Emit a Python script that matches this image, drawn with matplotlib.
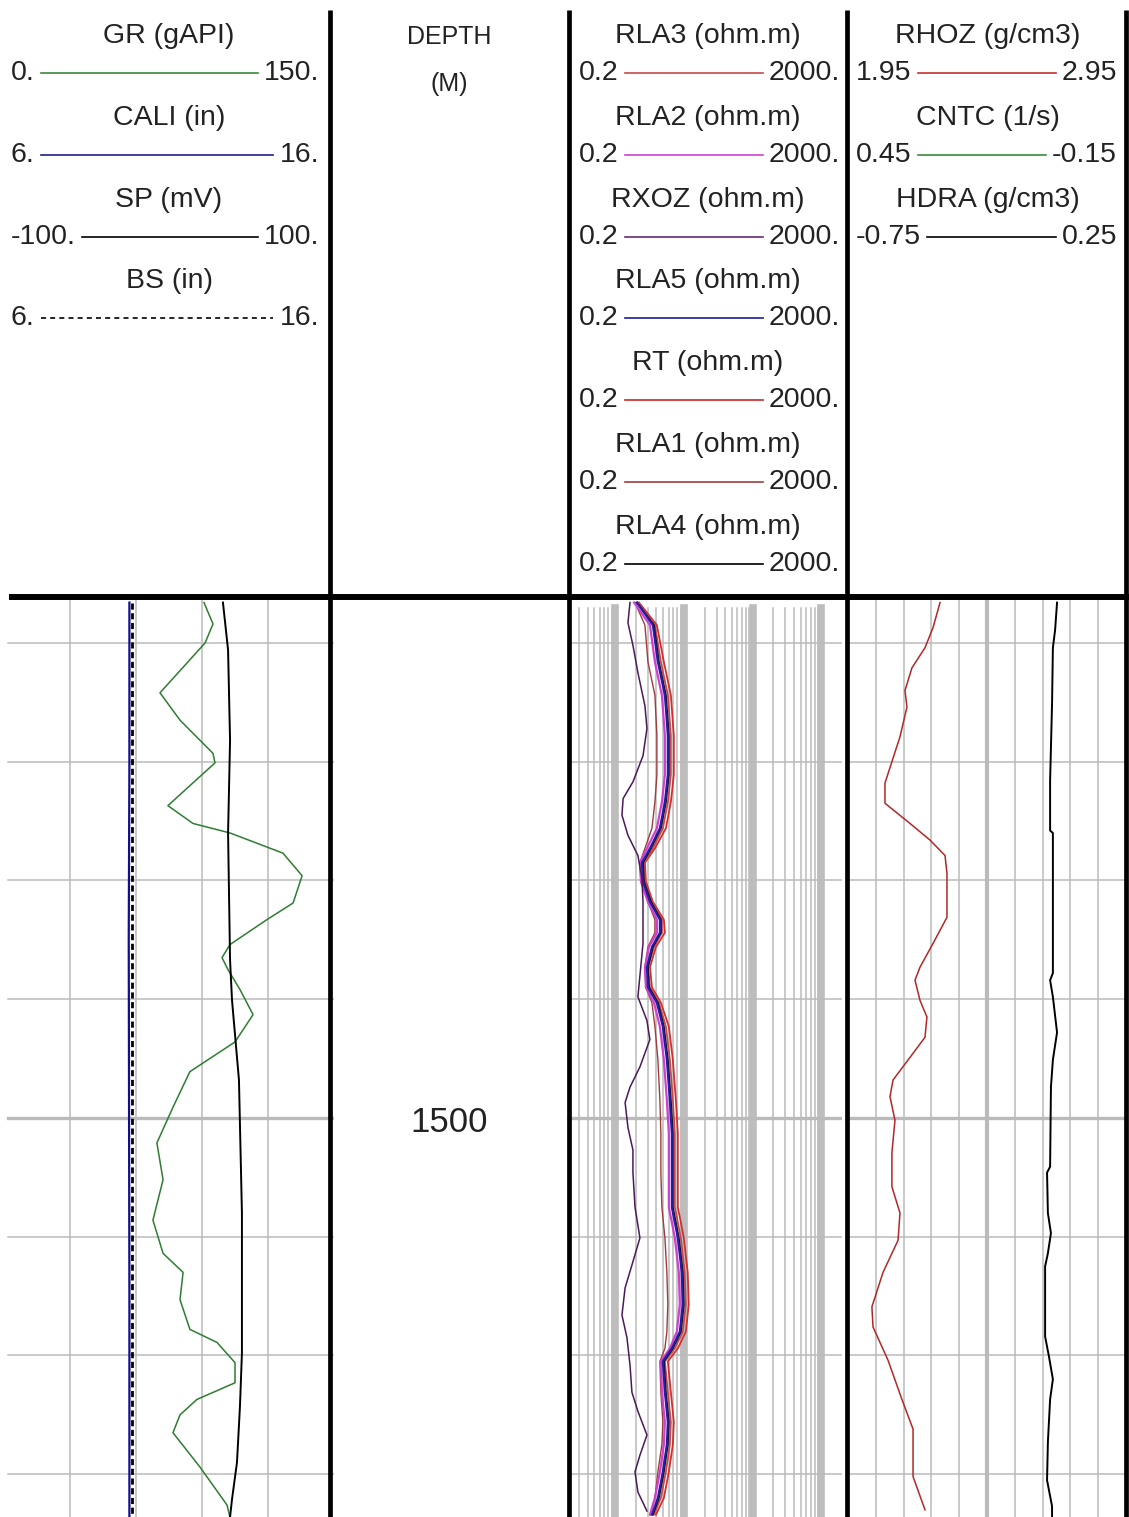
import matplotlib
matplotlib.use("Agg")
import matplotlib.pyplot as plt

plt.rcParams['font.family'] = ['Liberation Sans', 'DejaVu Sans']

# ── 0. curves (depth in M) ────────────────────────────────────────
gr_depth = [1456.6, 1458.4, 1460.0, 1464.2, 1466.5, 1469.3, 1470.1, 1473.7, 1475.2, 1476.0,
            1477.7, 1479.6, 1481.9, 1483.3, 1485.4, 1486.5, 1487.5, 1489.2, 1491.3, 1493.6,
            1496.1, 1499.1, 1502.1, 1505.2, 1508.6, 1511.4, 1513.0, 1515.3, 1517.8, 1518.9,
            1520.6, 1522.3, 1523.7, 1525.0, 1526.5, 1529.4, 1532.6, 1533.6]
gr = [90.9, 95.0, 91.4, 70.9, 80.0, 95.0, 95.9, 74.5, 85.9, 102.7,
      126.8, 135.5, 131.4, 119.5, 102.7, 99.1, 101.8, 107.3, 113.2, 105.0,
      84.5, 76.8, 69.5, 72.3, 67.7, 72.3, 81.4, 80.0, 84.5, 96.8,
      105.0, 105.0, 87.7, 80.0, 76.8, 89.1, 101.4, 102.7]

sp_depth = [1456.6, 1460.6, 1468.2, 1476.0, 1486.7, 1490.1, 1496.8, 1508.0, 1519.8,
            1524.3, 1529.0, 1532.1, 1533.6]
sp = [32.7, 35.8, 37.0, 35.8, 37.0, 38.2, 42.4, 44.2, 44.2, 43.0, 41.2, 38.2, 37.0]

cali_depth = [1456.6, 1470.0, 1485.0, 1500.0, 1515.0, 1533.6]
cali = [9.80, 9.80, 9.78, 9.79, 9.80, 9.80]
bs_depth = [1456.6, 1533.6]
bs = [9.875, 9.875]

res_depth = [1456.6, 1458.5, 1461.6, 1464.4, 1467.8, 1471.1, 1473.4, 1475.6, 1477.3, 1478.5,
             1480.1, 1481.8, 1483.3, 1484.4, 1485.6, 1487.3, 1489.0, 1490.3, 1492.3, 1495.1,
             1498.5, 1501.3, 1504.6, 1507.5, 1510.1, 1513.0, 1515.7, 1518.0, 1519.4, 1520.5,
             1523.1, 1525.6, 1527.5, 1529.8, 1532.0, 1533.4]
rla5 = [2.08, 3.55, 4.20, 5.31, 5.86, 5.86, 5.31, 4.49, 3.22, 2.46,
        2.55, 3.22, 4.49, 4.49, 3.44, 2.91, 3.01, 4.06, 4.96, 5.67,
        6.27, 6.70, 6.70, 6.70, 8.19, 9.35, 9.67, 8.75, 6.70, 4.96,
        5.31, 5.86, 5.67, 4.96, 4.20, 3.44]
rla1 = [1.95, 2.72, 3.01, 3.80, 4.06, 4.06, 3.80, 3.44, 2.72, 2.30,
        2.38, 3.01, 3.80, 3.80, 3.01, 2.72, 2.81, 3.44, 3.80, 4.20,
        4.49, 4.64, 4.64, 4.80, 5.31, 5.67, 5.86, 5.67, 5.31, 4.49,
        4.64, 4.96, 4.80, 4.20, 3.80, 3.22]
rla2 = [1.89, 3.22, 3.80, 4.80, 5.31, 5.31, 4.80, 4.06, 2.91, 2.30,
        2.38, 3.01, 4.06, 4.06, 3.11, 2.72, 2.81, 3.68, 4.49, 5.13,
        5.67, 6.06, 6.06, 6.06, 7.41, 8.46, 8.75, 7.92, 6.27, 4.64,
        4.80, 5.31, 5.13, 4.49, 3.80, 3.22]
rla3 = [2.15, 3.80, 4.64, 5.86, 6.48, 6.48, 5.86, 4.96, 3.55, 2.63,
        2.72, 3.44, 4.80, 4.80, 3.68, 3.01, 3.22, 4.34, 5.49, 6.27,
        6.93, 7.41, 7.41, 7.41, 9.05, 10.3, 10.7, 9.67, 7.41, 5.31,
        5.86, 6.48, 6.27, 5.49, 4.64, 3.68]
rla4 = [2.08, 3.68, 4.34, 5.49, 6.06, 6.06, 5.49, 4.64, 3.33, 2.55,
        2.63, 3.33, 4.64, 4.64, 3.55, 3.01, 3.11, 4.20, 5.13, 5.86,
        6.48, 6.93, 6.93, 6.93, 8.46, 9.67, 10.0, 9.05, 6.93, 5.13,
        5.49, 6.06, 5.86, 5.13, 4.34, 3.55]
rt = [2.23, 4.06, 5.13, 6.48, 7.16, 7.16, 6.48, 5.49, 3.80, 2.72,
      2.81, 3.55, 5.13, 5.31, 3.93, 3.22, 3.44, 4.64, 6.06, 6.93,
      7.66, 8.19, 8.19, 8.19, 10.0, 11.4, 11.8, 10.7, 8.19, 5.86,
      6.48, 7.16, 6.93, 6.06, 5.13, 3.93]

rxoz_depth = [1456.6, 1458.3, 1460.2, 1462.5, 1465.3, 1467.2, 1469.5, 1471.7, 1473.1, 1474.5,
              1476.2, 1477.9, 1479.8, 1481.8, 1485.3, 1489.8, 1491.8, 1493.4, 1495.7, 1497.4,
              1498.7, 1500.8, 1502.7, 1504.6, 1507.5, 1510.1, 1512.1, 1514.3, 1516.6, 1518.5,
              1520.8, 1523.1, 1524.7, 1526.7, 1528.4, 1529.8, 1531.5, 1533.1]
rxoz = [1.65, 1.54, 1.82, 2.15, 2.72, 2.91, 2.55, 1.82, 1.31, 1.26,
        1.54, 2.15, 2.46, 2.55, 2.55, 2.15, 2.91, 3.21, 2.30, 1.65,
        1.40, 1.54, 1.82, 1.82, 1.95, 2.30, 1.82, 1.40, 1.26, 1.49,
        1.65, 1.76, 2.15, 2.91, 2.30, 1.95, 2.15, 2.91]

rhoz_depth = [1456.6, 1458.7, 1460.4, 1462.1, 1464.0, 1465.4, 1467.9, 1470.5, 1471.8, 1473.5,
              1475.2, 1476.6, 1477.9, 1479.4, 1483.1, 1485.3, 1487.3, 1488.4, 1490.1, 1491.5,
              1493.2, 1494.9, 1496.8, 1498.2, 1500.2, 1502.9, 1505.8, 1508.0, 1510.3, 1513.0,
              1515.9, 1517.6, 1520.4, 1523.7, 1526.2, 1530.2, 1533.0]
rhoz = [2.281, 2.256, 2.227, 2.180, 2.155, 2.162, 2.137, 2.101, 2.083, 2.083,
        2.173, 2.245, 2.299, 2.306, 2.306, 2.256, 2.209, 2.191, 2.209, 2.234,
        2.227, 2.173, 2.112, 2.101, 2.119, 2.108, 2.108, 2.137, 2.130, 2.076,
        2.036, 2.040, 2.094, 2.144, 2.184, 2.184, 2.227]

hdra_depth = [1456.6, 1458.9, 1460.4, 1465.1, 1471.6, 1475.8, 1476.0, 1487.8, 1488.4, 1489.8,
              1492.8, 1495.1, 1497.4, 1504.1, 1504.6, 1508.0, 1509.7, 1511.4, 1512.5, 1518.4,
              1520.1, 1522.0, 1523.7, 1527.3, 1530.5, 1532.7, 1533.6]
hdra = [0.002, -0.005, -0.013, -0.016, -0.023, -0.023, -0.013, -0.013, -0.023, -0.013,
        0.002, -0.013, -0.020, -0.023, -0.034, -0.031, -0.020, -0.031, -0.041, -0.041,
        -0.027, -0.013, -0.023, -0.031, -0.034, -0.016, -0.016]

depth_grid = [1460, 1470, 1480, 1490, 1500, 1510, 1520, 1530]
depth_label = 1500

# ── 1. header text ─────────────────────────────────────────────────
track1_names = ["GR (gAPI)", "CALI (in)", "SP (mV)", "BS (in)"]
track1_lo = ["0.", "6.", "-100.", "6."]
track1_hi = ["150.", "16.", "100.", "16."]
track3_names = ["RLA3 (ohm.m)", "RLA2 (ohm.m)", "RXOZ (ohm.m)", "RLA5 (ohm.m)",
                "RT (ohm.m)", "RLA1 (ohm.m)", "RLA4 (ohm.m)"]
track3_lo = ["0.2"] * 7
track3_hi = ["2000."] * 7
track4_names = ["RHOZ (g/cm3)", "CNTC (1/s)", "HDRA (g/cm3)"]
track4_lo = ["1.95", "0.45", "-0.75"]
track4_hi = ["2.95", "-0.15", "0.25"]

# colours / line styles of the header samples (same order as names)
track1_style = [("#3a8a3a", "-"), ("#1c1c8c", "-"), ("k", "-"), ("k", (0, (3, 2.5)))]
track3_style = [("#c84848", "-"), ("#d040d0", "-"), ("#6a2a7a", "-"), ("#1e1e96", "-"),
                ("#c82828", "-"), ("#a03c3c", "-"), ("k", "-")]
track4_style = [("#c83030", "-"), ("#3a8a3a", "-"), ("k", "-")]

# ── 2. figure + helpers ───────────────────────────────────────────
W, H = 1129, 1517
TOP, BOT = 1456.3, 1533.6
GRID = "#bababa"
TXT = "#222222"
FS = 20.5

fig = plt.figure(figsize=(W / 100, H / 100), dpi=100)


def px_axes(x0, x1, y0=599, y1=H):
    ax = fig.add_axes([x0 / W, 1 - y1 / H, (x1 - x0) / W, (y1 - y0) / H])
    ax.set_ylim(BOT, TOP)
    ax.axis("off")
    return ax


def depth_lines(ax, xmin=0.0):
    for d in depth_grid:
        ax.axhline(d, xmin=xmin, color=GRID, lw=2.4 if d % 50 == 0 else 1.1, zorder=0)


# ── 3. track 1 : GR / CALI / SP / BS ──────────────────────────────
ax_gr = px_axes(4, 334)
ax_gr.set_xlim(0, 150)
for v in (30, 60, 90, 120):
    ax_gr.axvline(v, color=GRID, lw=1.1, zorder=0)
depth_lines(ax_gr, xmin=0.013)
ax_gr.plot(gr, gr_depth, color="#2e7d32", lw=1.1)

ax_cal = px_axes(4, 334)
ax_cal.set_xlim(6, 16)
ax_cal.plot(cali, cali_depth, color="#10108a", lw=1.6)
ax_cal.plot(bs, bs_depth, color="k", lw=2.0, linestyle=(0, (2.2, 1.3)))

ax_sp = px_axes(4, 334)
ax_sp.set_xlim(-100, 100)
ax_sp.plot(sp, sp_depth, color="k", lw=1.4)

# ── 4. track 2 : depth ────────────────────────────────────────────
ax_dep = px_axes(330, 569)
ax_dep.set_xlim(0, 1)
ax_dep.text(0.5, depth_label + 0.4, str(depth_label), ha="center", va="center",
            fontsize=25, color=TXT)

# ── 5. track 3 : resistivities (log) ──────────────────────────────
ax_res = px_axes(567, 842)
ax_res.set_xscale("log")
ax_res.set_xlim(0.2, 2000)
for dec in (0.1, 1, 10, 100, 1000):
    for m in range(2, 10):
        v = dec * m
        if 0.2 < v < 2000:
            ax_res.axvline(v, ymax=0.99, color=GRID, lw=1.1, zorder=0)
for v in (1, 10, 100, 1000):
    ax_res.axvline(v, ymax=0.99, color="#bdbdbd", lw=5.5, zorder=0)
depth_lines(ax_res)

ax_res.plot(rla1, res_depth, color="#a03c3c", lw=1.0)
ax_res.plot(rt, res_depth, color="#d03030", lw=1.3)
ax_res.plot(rla3, res_depth, color="#c84848", lw=1.3)
ax_res.plot(rla4, res_depth, color="#1a0a1a", lw=1.3)
ax_res.plot(rla2, res_depth, color="#d040d0", lw=1.6)
ax_res.plot(rla5, res_depth, color="#2020a0", lw=1.6)
ax_res.plot(rxoz, rxoz_depth, color="#4a1a5a", lw=1.1)

# ── 6. track 4 : RHOZ / HDRA ──────────────────────────────────────
ax_rho = px_axes(848, 1126)
ax_rho.set_xlim(1.95, 2.95)
for i in range(1, 10):
    ax_rho.axvline(1.95 + 0.1 * i, color=GRID, lw=3.0 if i == 5 else 1.1, zorder=0)
depth_lines(ax_rho)
ax_rho.plot(rhoz, rhoz_depth, color="#b02828", lw=1.1)

ax_hd = px_axes(848, 1126)
ax_hd.set_xlim(-0.75, 0.25)
ax_hd.plot(hdra, hdra_depth, color="k", lw=1.4)

# ── 7. header + track borders (pixel overlay) ─────────────────────
ax_top = fig.add_axes([0, 0, 1, 1])
ax_top.set_xlim(0, W)
ax_top.set_ylim(H, 0)
ax_top.axis("off")

for x in (330, 569, 847, 1126):
    ax_top.plot([x, x], [10, H], color="k", lw=3.4, solid_capstyle="butt")
ax_top.plot([9, W], [597, 597], color="k", lw=4.3, solid_capstyle="butt")

ax_top.text(449, 37, "DEPTH", ha="center", va="center", fontsize=18, color=TXT)
ax_top.text(449, 84, "(M)", ha="center", va="center", fontsize=18, color=TXT)

rows = []


def header_track(names, lo, hi, styles, cx, xl, xr):
    for i, name in enumerate(names):
        y_name = 36 + 81.8 * i
        y_row = 73 + 81.8 * i
        ax_top.text(cx, y_name, name, ha="center", va="center", fontsize=FS, color=TXT)
        tl = ax_top.text(xl, y_row, lo[i], ha="left", va="center", fontsize=FS, color=TXT)
        tr = ax_top.text(xr, y_row, hi[i], ha="right", va="center", fontsize=FS, color=TXT)
        rows.append((tl, tr, y_row, styles[i]))


header_track(track1_names, track1_lo, track1_hi, track1_style, 169, 11, 319)
header_track(track3_names, track3_lo, track3_hi, track3_style, 708, 579, 840)
header_track(track4_names, track4_lo, track4_hi, track4_style, 988, 856, 1117)

# sample lines run between the scale labels
fig.canvas.draw()
renderer = fig.canvas.get_renderer()
inv = ax_top.transData.inverted()
for tl, tr, y, (col, ls) in rows:
    x0 = inv.transform((tl.get_window_extent(renderer).x1, 0))[0] + 6
    x1 = inv.transform((tr.get_window_extent(renderer).x0, 0))[0] - 6
    ax_top.plot([x0, x1], [y, y], color=col, lw=1.2, linestyle=ls)

fig.savefig("out.png", dpi=100, facecolor="white")
